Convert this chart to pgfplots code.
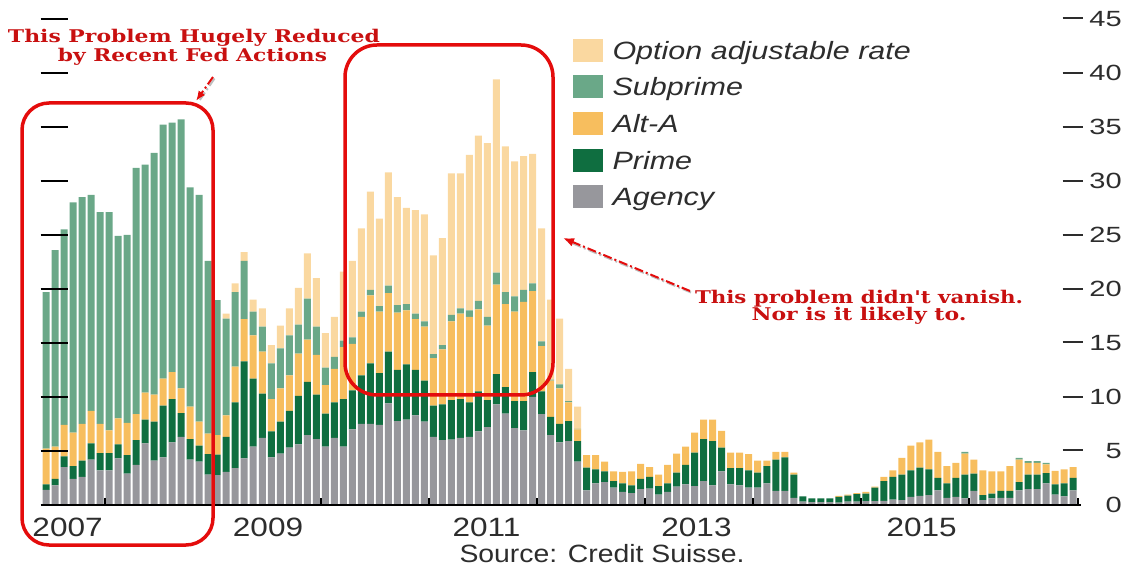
\documentclass[border=0pt]{standalone}
\usepackage{pgfplots}
\pgfplotsset{compat=1.18}
\usepackage{pgfplotstable}
\usepackage{graphicx}
\usepackage{fontspec}
\usetikzlibrary{arrows.meta}
\setmainfont{Liberation Sans}
\newfontfamily\legfont[FakeStretch=1.22]{Liberation Sans}
\newfontfamily\yearfont[FakeStretch=1.19]{Liberation Sans}
\newfontfamily\numfont[FakeStretch=1.32]{Liberation Sans}
\newfontfamily\notefont{DejaVu Serif}

\definecolor{oarC}{RGB}{250,216,160}
\definecolor{subC}{RGB}{106,168,136}
\definecolor{altC}{RGB}{247,190,94}
\definecolor{primeC}{RGB}{15,110,64}
\definecolor{agencyC}{RGB}{151,151,156}
\definecolor{noteRed}{RGB}{200,16,16}
\definecolor{boxRed}{RGB}{228,12,12}
\definecolor{txt}{RGB}{45,45,45}

% right-hand tick labels: a dash, a gap, then the number right-aligned
\newcommand\ylab[1]{\rule[6.9pt]{20pt}{2pt}\hspace*{4pt}\makebox[35pt][r]{#1}}
\newcommand\ylabz[1]{\hspace*{24pt}\makebox[35pt][r]{#1}}

\pgfplotsset{sw/.style={legend image code/.code={\fill[##1] (0pt,-11.5pt) rectangle (30pt,11.5pt);}}}

% monthly resets, one row per month (segment heights, stacked bottom to top)
\pgfplotstableread{
x ag pr alt sub oar
1 1.4 0.5 3.3 14.5 0
2 1.8 0.6 3.0 18.2 0
3 3.5 1.0 2.9 18.1 0
4 2.4 1.2 3.1 21.3 0
5 2.6 1.5 3.4 21.0 0
6 4.2 1.5 3.0 20.0 0
7 3.2 1.6 2.7 19.6 0
8 3.2 1.6 2.1 20.2 0
9 4.3 1.3 2.4 16.9 0
10 2.9 1.7 3.0 17.4 0
11 3.7 2.3 2.4 22.8 0
12 5.7 2.2 2.5 21.1 0
13 4.1 3.6 2.5 22.4 0
14 4.4 4.8 2.5 23.5 0
15 5.8 4.0 2.5 23.1 0
16 6.3 2.2 2.3 24.9 0
17 4.2 1.9 3.0 20.3 0
18 4.0 1.5 2.2 21.0 0
19 2.8 1.9 1.9 16.0 0
20 2.75 1.9 1.8 12.5 0
21 3.05 3.25 2.0 8.95 0.45
22 3.4 6.1 3.3 6.9 0.8
23 4.3 9.0 3.9 5.4 0.8
24 5.4 6.3 4.0 2.2 1.1
25 6.2 4.1 3.9 2.3 1.7
26 4.4 2.4 3.0 3.3 1.7
27 4.75 2.95 3.1 3.7 2.1
28 5.3 3.4 3.3 3.7 2.5
29 5.6 4.5 3.9 2.7 3.4
30 6.45 4.95 3.9 3.8 4.2
31 6.1 4.1 3.7 2.6 4.5
32 5.4 3.05 2.65 1.6 3.2
33 6.2 3.3 3.1 1.1 3.7
34 5.4 4.4 4.8 0.6 6.4
35 7.0 3.6 4.3 0.6 7.1
36 7.5 4.5 5.4 0.5 7.7
37 7.5 5.6 6.3 0.5 9.1
38 7.4 4.8 5.7 0.5 8.1
39 9.4 4.8 5.4 0.7 10.5
40 7.75 4.75 5.3 0.7 10.0
41 7.9 5.1 5.0 0.6 8.9
42 8.3 4.2 4.7 0.5 9.6
43 7.7 3.8 5.0 0.5 9.9
44 6.3 2.9 4.4 0.35 9.15
45 6.0 3.3 5.1 0.4 9.9
46 6.05 3.65 7.3 0.6 13.1
47 6.2 3.6 7.9 0.5 12.5
48 6.3 3.2 7.9 0.6 14.4
49 6.8 3.7 7.6 0.8 15.3
50 7.2 2.5 6.9 0.8 16.1
51 9.3 2.8 8.3 1.1 17.9
52 8.45 2.45 7.7 1.1 13.5
53 7.1 2.5 8.3 1.4 12.5
54 6.9 2.7 9.2 1.1 12.4
55 10.0 2.3 7.5 0.7 12.0
56 8.4 2.1 4.2 0.45 10.45
57 6.45 1.7 3.35 0.1 7.4
58 5.8 1.7 3.3 0.35 6.1
59 5.9 1.85 1.75 0.1 3.0
60 4.0 1.9 1.1 0.05 2.05
61 1.35 2.1 1.15 0 0
62 2.0 1.3 1.3 0 0
63 2.1 1.0 0.9 0 0
64 1.6 0.6 0.9 0 0
65 1.2 0.8 1.05 0 0
66 1.1 0.7 1.3 0 0
67 1.45 0.95 1.4 0 0
68 1.5 1.1 0.9 0 0
69 0.95 0.8 1.05 0 0
70 1.2 0.8 1.7 0 0
71 1.7 1.3 1.75 0 0
72 1.9 1.8 1.7 0 0
73 1.75 3.1 1.85 0 0
74 2.2 3.9 1.8 0 0
75 1.8 4.1 2.0 0 0
76 3.1 2.2 1.55 0 0
77 1.9 1.5 1.45 0 0
78 1.8 1.6 1.45 0 0
79 1.6 1.6 1.5 0 0
80 1.6 1.4 1.1 0 0
81 2.0 1.6 0.5 0 0
82 1.3 2.9 0.7 0 0
83 1.3 3.1 0.5 0 0
84 0.65 2.15 0.2 0 0
85 0.3 0.5 0 0 0
86 0.25 0.35 0 0 0
87 0.25 0.35 0 0 0
88 0.25 0.35 0 0 0
89 0.2 0.54 0.09 0 0
90 0.3 0.55 0.1 0 0
91 0.3 0.7 0.1 0 0
92 0.35 0.7 0.15 0 0
93 0.35 1.25 0.1 0 0
94 0.37 1.83 0.4 0 0
95 0.5 2.1 0.6 0 0
96 0.45 2.35 1.55 0 0
97 0.74 2.46 2.3 0 0
98 0.83 2.62 2.35 0 0
99 0.9 2.4 2.75 0 0
100 1.35 1.15 2.4 0 0
101 0.65 1.35 1.6 0 0
102 0.74 1.76 1.4 0 0
103 0.6 2.2 1.95 0.15 0
104 1.3 1.6 1.3 0 0
105 0.45 0.45 2.3 0 0
106 0.6 0.45 2.05 0 0
107 0.65 0.65 1.8 0 0
108 0.65 0.65 2.3 0 0
109 1.35 0.75 2.1 0.15 0
110 1.45 1.35 1.1 0.15 0
111 1.45 1.35 1.1 0.15 0
112 2.0 0.95 0.8 0.15 0
113 0.95 0.95 1.25 0 0
114 0.8 1.2 1.3 0 0
115 1.35 1.15 1.0 0 0
}\resets

\begin{document}
\begin{tikzpicture}[x=1pt,y=1pt]
\path[use as bounding box] (0,0) rectangle (1131,567);

\begin{axis}[
  at={(45,57.5)}, anchor=south west,
  scale only axis, width=1040pt, height=486pt,
  xmin=0.3895, xmax=115.83, ymin=0, ymax=45,
  ybar stacked, bar width=7pt,
  axis on top,
  axis x line*=bottom, axis y line*=right,
  x axis line style={-, black, line width=1.4pt},
  y axis line style={draw=none},
  tick align=inside,
  xtick={7.5,19.5,...,115.5}, xticklabels={},
  major tick length=7pt,
  xtick style={black, line width=2pt},
  extra x ticks={3.39,25.64,49.9,73.2,98.2},
  extra x tick labels={2007,2009,2011,2013,2015},
  extra x tick style={major tick length=0pt,
    xticklabel style={anchor=base, yshift=-32pt, text=txt,
      font=\yearfont\fontsize{26.5pt}{28pt}\selectfont}},
  ytick={0,5,...,45},
  yticklabels={\ylabz{0},\ylab{5},\ylab{10},\ylab{15},\ylab{20},\ylab{25},\ylab{30},\ylab{35},\ylab{40},\ylab{45}},
  ytick style={draw=none},
  yticklabel style={anchor=west, inner sep=0pt, xshift=-18pt, text=txt,
    font=\numfont\fontsize{22pt}{24pt}\selectfont},
  reverse legend,
  legend cell align=left,
  legend style={at={(axis description cs:0.5115,0.9593)}, anchor=north west,
    draw=none, fill=none, inner sep=0pt, outer sep=0pt,
    row sep=13.7pt, column sep=10pt, text=txt,
    font=\legfont\itshape\fontsize{25pt}{30pt}\selectfont,
    nodes={inner sep=0pt, text height=18pt, text depth=0pt}},
]
\addplot[fill=agencyC, draw=none, sw] table[x=x, y=ag] {\resets};
\addlegendentry{Agency}
\addplot[fill=primeC, draw=none, sw] table[x=x, y=pr] {\resets};
\addlegendentry{Prime}
\addplot[fill=altC, draw=none, sw] table[x=x, y=alt] {\resets};
\addlegendentry{Alt-A}
\addplot[fill=subC, draw=none, sw] table[x=x, y=sub] {\resets};
\addlegendentry{Subprime}
\addplot[fill=oarC, draw=none, sw] table[x=x, y=oar] {\resets};
\addlegendentry{Option adjustable rate}
\end{axis}

% short gridline dashes along the left edge
\begin{axis}[
  at={(45,57.5)}, anchor=south west,
  scale only axis, width=1040pt, height=486pt,
  xmin=0.3895, xmax=115.83, ymin=0, ymax=45,
  axis x line=none, axis y line*=left,
  y axis line style={draw=none},
  ytick={5,10,...,45}, yticklabels={},
  tick align=inside, major tick length=27pt,
  ytick style={black, line width=1.6pt},
]
\end{axis}

% highlight boxes
\draw[boxRed, line width=3.5pt, rounded corners=27pt] (22,22) rectangle (213,464);
\draw[boxRed, line width=3.5pt, rounded corners=32pt] (345,172) rectangle (553,522);

% pointer arrows
\draw[black!25, line width=2pt, dash pattern=on 9pt off 3pt on 2pt off 3pt] (214.5,488.5) -- (199.5,466.5);
\draw[boxRed, line width=2pt, dash pattern=on 9pt off 3pt on 2pt off 3pt, -{Latex[length=10pt,width=8pt]}] (213,490) -- (196,466);
\draw[black!25, line width=2pt, dash pattern=on 9pt off 3pt on 2pt off 3pt] (691,274.5) -- (568,325.5);
\draw[boxRed, line width=2pt, dash pattern=on 9pt off 3pt on 2pt off 3pt, -{Latex[length=11pt,width=9pt]}] (690,276) -- (563,329);

% notes
\begin{scope}[every node/.style={anchor=base, inner sep=0pt, text=noteRed,
    font=\notefont\bfseries\fontsize{17.5pt}{20pt}\selectfont}]
\node at (194,524.7) {\resizebox{372pt}{\height}{This Problem Hugely Reduced}};
\node at (192.5,505.3) {\resizebox{269pt}{\height}{by Recent Fed Actions}};
\node at (859,263) {\resizebox{328pt}{\height}{This problem didn't vanish.}};
\node at (859,246.3) {\resizebox{215pt}{\height}{Nor is it likely to.}};
\end{scope}

\node[anchor=base, inner sep=0pt, text=txt, font=\fontsize{25pt}{28pt}\selectfont]
  at (602,5) {\resizebox{285pt}{\height}{Source: Credit Suisse.}};
\end{tikzpicture}
\end{document}
